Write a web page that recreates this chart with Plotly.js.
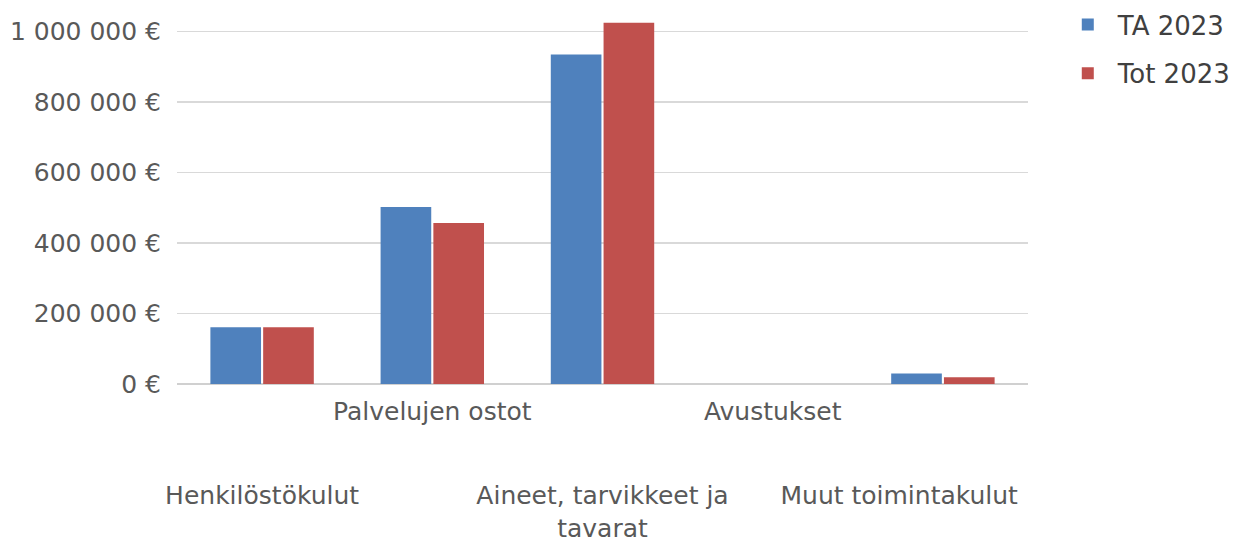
<!DOCTYPE html>
<html>
<head>
<meta charset="utf-8">
<script src="https://cdn.plot.ly/plotly-3.0.1.min.js"></script>
<style>html,body{margin:0;padding:0;background:#fff;}#chart{width:1234px;height:545px;}</style>
</head>
<body>
<div id="chart"></div>
<script>
const categories = ["Henkilöstökulut", "Palvelujen ostot", "Aineet, tarvikkeet ja<br>tavarat", "Avustukset", "Muut toimintakulut"];
const ta2023 = [161000, 502000, 935000, 0, 30000];
const tot2023 = [161000, 457000, 1025000, 0, 19000];
const yTicks = [0, 200000, 400000, 600000, 800000, 1000000];
const yTickLabels = ["0 €", "200 000 €", "400 000 €", "600 000 €", "800 000 €", "1 000 000 €"];

// staggered category labels: odd indices on the upper row, even on the lower row
const catIndex = categories.map((c, i) => i);
const upperLabels = categories.map((c, i) => (i % 2 === 1 ? c : ""));
// last label is kept inside the plot width (as the original does) by padding it on the right
const lowerLabels = categories.map((c, i) =>
  i % 2 === 0 ? (i === categories.length - 1 ? c + "\u00A0".repeat(11) : c) : "");

const fam = "DejaVu Sans, Verdana, sans-serif";
const xfont = {family: fam, size: 25, color: "#595959"};

const traces = [
  {type: "bar", name: "TA 2023", x: categories, y: ta2023, legendgroup: "a",
   marker: {color: "#4F81BD", line: {width: 0}}},
  {type: "bar", name: "Tot 2023", x: categories, y: tot2023, legendgroup: "b",
   marker: {color: "#C0504D", line: {width: 0}}},
  // carrier for the lower row of category labels (no visible marks)
  {type: "scatter", mode: "markers", x: catIndex, y: categories.map(() => null),
   xaxis: "x2", yaxis: "y", showlegend: false, hoverinfo: "skip"}
];

const layout = {
  width: 1234, height: 545,
  margin: {l: 177, r: 206, t: 21, b: 161, autoexpand: false},
  paper_bgcolor: "#fff", plot_bgcolor: "#fff",
  font: {family: fam, size: 24, color: "#595959"},
  barmode: "group", bargap: 0.38, bargroupgap: 0.04,
  showlegend: true,
  legend: {x: 1.035, y: 1.055, xanchor: "left", yanchor: "top", font: {family: fam, size: 26, color: "#404040"},
           itemwidth: 50, tracegroupgap: 12, traceorder: "grouped", bgcolor: "rgba(0,0,0,0)"},
  xaxis: {type: "category", categoryorder: "array", categoryarray: categories, range: [-0.5, 4.5],
          tickvals: categories, ticktext: upperLabels, tickangle: 0, ticklabelstandoff: 10,
          showgrid: false, showline: false, ticks: "", tickfont: xfont, automargin: false},
  xaxis2: {type: "linear", range: [-0.5, 4.5], overlaying: "x", anchor: "y", side: "bottom",
           tickvals: catIndex, ticktext: lowerLabels, tickangle: 0, ticklabelstandoff: 94,
           showgrid: false, showline: false, zeroline: false, ticks: "", tickfont: xfont, automargin: false},
  yaxis: {range: [0, 1030000], tickvals: yTicks, ticktext: yTickLabels, ticklabelstandoff: 15,
          showgrid: true, gridcolor: "#D9D9D9", gridwidth: 1.5, zeroline: true, zerolinecolor: "#D0D0D0", zerolinewidth: 1.5,
          showline: false, ticks: "", tickfont: {family: fam, size: 25, color: "#595959"}, automargin: false}
};

Plotly.newPlot("chart", traces, layout, {displayModeBar: false, staticPlot: true});
</script>
</body>
</html>
